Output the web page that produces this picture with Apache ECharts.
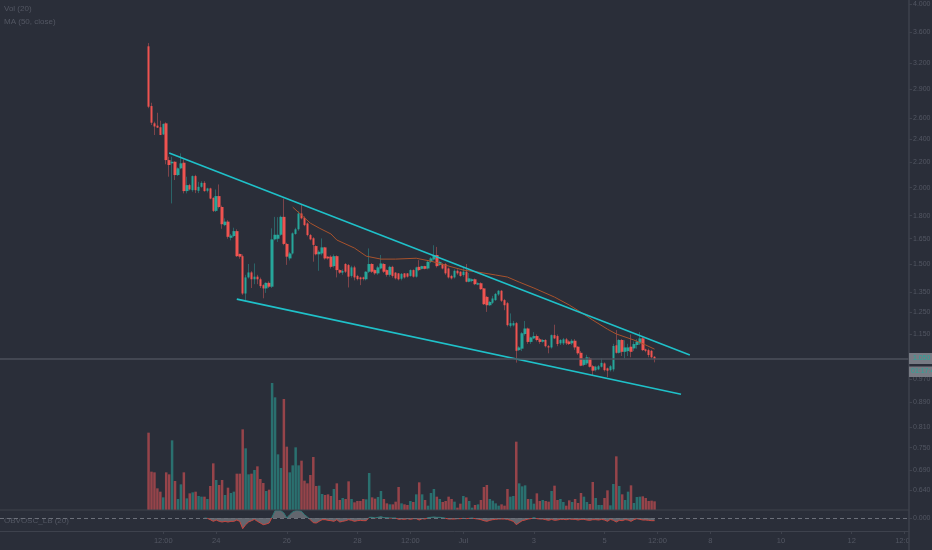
<!DOCTYPE html>
<html>
<head>
<meta charset="utf-8">
<style>html,body{margin:0;padding:0;background:#2a2e39}#main{width:932px;height:550px}</style>
<script src="https://cdn.jsdelivr.net/npm/echarts@6/dist/echarts.min.js"></script>
</head>
<body>
<div id="main"></div>
<script>
// 2h bars, one slot per bar, first candle sits in slot 50
var slotCount = 309;
var firstSlot = 50;
var opens = [
3.41,2.722,2.55,2.528,2.513,2.446,2.55,2.22,2.193,2.206,
2.098,2.152,2.198,1.975,2.02,1.982,2.09,1.977,2.007,2.037,
1.977,1.995,1.925,1.833,1.938,1.86,1.737,1.76,1.656,1.667,
1.698,1.558,1.545,1.342,1.426,1.453,1.416,1.43,1.416,1.385,
1.368,1.397,1.377,1.646,1.65,1.675,1.792,1.618,1.532,1.561,
1.68,1.71,1.815,1.785,1.748,1.673,1.653,1.605,1.556,1.561,
1.597,1.542,1.542,1.488,1.545,1.466,1.452,1.50,1.494,1.434,
1.481,1.434,1.426,1.426,1.416,1.457,1.50,1.466,1.448,1.475,
1.50,1.466,1.44,1.484,1.452,1.448,1.419,1.448,1.448,1.434,
1.466,1.43,1.484,1.473,1.488,1.475,1.512,1.526,1.552,1.495,
1.50,1.50,1.475,1.434,1.426,1.462,1.457,1.439,1.457,1.403,
1.407,1.416,1.388,1.395,1.368,1.325,1.284,1.296,1.309,1.337,
1.356,1.309,1.294,1.188,1.19,1.20,1.084,1.09,1.152,1.176,
1.118,1.133,1.143,1.129,1.119,1.126,1.10,1.095,1.147,1.143,
1.112,1.112,1.129,1.12,1.112,1.123,1.098,1.073,1.025,1.031,
1.051,1.02,1.005,1.008,1.018,1.031,1.012,1.005,1.008,1.104,
1.073,1.126,1.077,1.08,1.098,1.091,1.105,1.112,1.133,1.087,
1.084,1.081,1.057];
var closes = [
2.715,2.556,2.52,2.509,2.44,2.544,2.22,2.179,2.206,2.098,
2.152,2.193,1.975,2.02,1.987,2.09,1.982,2.007,2.037,1.975,
1.995,1.92,1.833,1.938,1.86,1.743,1.76,1.662,1.67,1.698,
1.545,1.542,1.342,1.426,1.453,1.416,1.43,1.416,1.38,1.368,
1.397,1.377,1.646,1.675,1.675,1.792,1.618,1.542,1.561,1.684,
1.71,1.815,1.782,1.737,1.673,1.646,1.612,1.556,1.571,1.597,
1.532,1.532,1.484,1.545,1.466,1.452,1.461,1.457,1.43,1.481,
1.426,1.417,1.416,1.418,1.457,1.50,1.457,1.448,1.481,1.503,
1.457,1.44,1.484,1.434,1.421,1.416,1.445,1.426,1.43,1.466,
1.43,1.481,1.466,1.488,1.473,1.512,1.532,1.552,1.488,1.512,
1.475,1.448,1.426,1.421,1.462,1.448,1.434,1.457,1.403,1.421,
1.416,1.39,1.395,1.364,1.289,1.284,1.30,1.317,1.34,1.356,
1.306,1.284,1.191,1.20,1.20,1.081,1.095,1.155,1.176,1.118,
1.137,1.143,1.126,1.118,1.126,1.10,1.095,1.147,1.133,1.109,
1.126,1.129,1.112,1.109,1.123,1.095,1.071,1.022,1.047,1.055,
1.018,1.003,1.018,1.02,1.033,1.005,1.003,1.02,1.101,1.073,
1.126,1.077,1.095,1.095,1.077,1.109,1.119,1.133,1.084,1.081,
1.064,1.055,1.048];
var highs = [
3.452,2.756,2.566,2.654,2.575,2.55,2.56,2.248,2.248,2.21,
2.16,2.277,2.226,2.085,2.03,2.095,2.10,2.045,2.05,2.05,
2.0,2.0,1.93,1.987,2.025,1.87,1.782,1.77,1.68,1.72,
1.71,1.56,1.555,1.44,1.50,1.46,1.503,1.44,1.425,1.39,
1.40,1.405,1.716,1.792,1.79,1.80,1.92,1.625,1.57,1.69,
1.72,1.83,1.874,1.795,1.755,1.68,1.66,1.61,1.58,1.652,
1.60,1.545,1.55,1.555,1.55,1.47,1.47,1.505,1.50,1.49,
1.49,1.44,1.43,1.43,1.46,1.591,1.505,1.47,1.49,1.552,
1.505,1.47,1.49,1.49,1.455,1.45,1.45,1.45,1.45,1.47,
1.47,1.485,1.522,1.49,1.49,1.52,1.54,1.61,1.60,1.52,
1.505,1.505,1.48,1.44,1.47,1.47,1.46,1.48,1.50,1.45,
1.42,1.42,1.40,1.40,1.37,1.33,1.305,1.33,1.345,1.36,
1.36,1.315,1.30,1.245,1.21,1.205,1.10,1.16,1.21,1.18,
1.14,1.16,1.15,1.135,1.13,1.13,1.105,1.15,1.193,1.15,
1.13,1.135,1.135,1.125,1.13,1.13,1.10,1.08,1.05,1.065,
1.055,1.025,1.022,1.025,1.05,1.035,1.015,1.025,1.11,1.169,
1.13,1.13,1.125,1.11,1.15,1.12,1.13,1.16,1.14,1.09,
1.09,1.085,1.06];
var lows = [
2.70,2.534,2.44,2.506,2.44,2.44,2.185,2.085,1.885,2.059,
2.09,2.145,1.958,1.958,1.98,1.97,1.96,1.96,2.0,1.97,
1.965,1.915,1.825,1.825,1.85,1.713,1.73,1.65,1.64,1.66,
1.54,1.53,1.335,1.309,1.42,1.37,1.39,1.39,1.37,1.318,
1.345,1.37,1.37,1.64,1.63,1.668,1.61,1.495,1.52,1.555,
1.675,1.70,1.775,1.73,1.665,1.64,1.513,1.55,1.462,1.55,
1.525,1.525,1.475,1.48,1.426,1.445,1.44,1.45,1.373,1.425,
1.41,1.41,1.385,1.41,1.41,1.45,1.45,1.44,1.44,1.47,
1.45,1.43,1.43,1.425,1.415,1.41,1.41,1.42,1.425,1.43,
1.425,1.425,1.46,1.47,1.47,1.47,1.505,1.52,1.48,1.49,
1.47,1.44,1.42,1.415,1.42,1.44,1.43,1.43,1.40,1.40,
1.40,1.385,1.385,1.36,1.285,1.252,1.28,1.29,1.305,1.33,
1.30,1.26,1.185,1.18,1.185,1.034,1.08,1.08,1.145,1.11,
1.11,1.13,1.12,1.11,1.115,1.095,1.071,1.09,1.13,1.10,
1.105,1.105,1.105,1.105,1.105,1.085,1.065,1.02,1.02,1.025,
1.015,0.986,1.0,1.005,1.015,1.0,0.979,1.0,1.0,1.07,
1.07,1.06,1.05,1.06,1.055,1.08,1.09,1.105,1.08,1.075,
1.055,1.05,1.035];
var volumes = [
232,115,113,65,55,38,113,107,209,87,
33,77,113,35,50,53,55,42,40,40,
33,72,140,90,75,90,45,67,51,55,
109,109,242,185,107,109,120,131,93,81,
57,61,381,338,167,126,333,190,113,134,
188,134,148,88,80,105,159,72,73,48,
45,47,42,63,80,30,36,33,86,33,
23,27,27,33,32,111,38,34,39,57,
33,20,17,17,25,69,20,17,15,27,
24,47,83,47,30,13,51,63,40,33,
24,27,40,33,25,7,19,42,38,27,
7,15,17,30,69,75,33,28,20,13,
17,13,63,40,42,205,80,71,74,33,
33,19,50,27,30,27,25,57,73,30,
33,24,13,29,24,33,21,51,40,24,
18,84,36,15,15,36,59,14,78,161,
72,47,30,55,74,21,39,40,41,36,
27,28,26];
// oscillator starts at candle 19
var oscFirstBar = 19;
var oscValues = [
0,-1,-5,-10,-6,-10,-12,-10,-12,-10,-10,-6,-10,-32,-20,-12,-8,-4,-10,-15,
-20,-18,-15,3,22,22,22,15,0,10,18,22,22,20,10,3,-5,-14,-15,-10,
-5,-5,-7,-8,-10,-5,-12,-10,-8,-5,-7,-10,-8,-7,-8,-8,2,2,0,2,
4,1,1,0,0,0,-4,
-3,-4,-2,-4,-2,-2,-6,-2,-3,1,2,3,2,2,1,-1,-3,-3,-3,-2,
-2,-1,-2,-1,0,-2,-3,-5,-8,-10,-7,-5,-4,-3,-3,-3,-4,-7,-10,-20,
-14,-8,-6,-3,-2,1,-2,-3,-3,-5,-7,-4,-7,-6,-4,-4,-5,-3,-4,-4,
-6,-4,-4,-6,-7,-5,-5,-6,-4,-6,-10,-4,-7,-12,-7,-8,-5,-6,-10,-5,
-2,-4,-6,-6,-7,-8,-8];
// MA (50, close), read at these slots
var maSlots = [99,102,105,108,112,114,120,124,129,134,141,146,151,157,162,168,172,176,181,188,193,197,201,206,209,215,219,222];
var maValues = [1.859,1.804,1.75,1.718,1.68,1.642,1.593,1.545,1.528,1.528,1.533,1.516,1.493,1.466,1.455,1.439,1.428,1.401,1.37,1.324,1.285,1.25,1.214,1.173,1.152,1.126,1.105,1.088];
// trend lines
var upperSlots = [57,234];
var upperValues = [2.28,1.064];
var lowerSlots = [80,231];
var lowerValues = [1.314,0.918];
var priceTicks = [4,3.6,3.2,2.9,2.6,2.4,2.2,2,1.8,1.65,1.5,1.35,1.25,1.15,1.05,0.97,0.89,0.81,0.75,0.69,0.64];
var timeSlots = [55,73,97,121,139,157,181,205,223,241,265,289,307];
var timeLabels = ['12:00','24','26','28','12:00','Jul','3','5','12:00','8','10','12','12:00'];

var upColor = '#26a69a', downColor = '#ef5350';
var upWick = '#2b6468', downWick = '#7d444a';
var upVol = '#2a706f', downVol = '#96444a';
var dimText = '#535763', lineColor = '#3e424d';
var font = '"Liberation Sans", sans-serif';

var myChart = echarts.init(document.getElementById('main'));

var categories = [];
for (var s = 0; s < slotCount; s++) categories.push(String(s));

var wickData = [], bodyData = [], volData = [], oscData = [];
opens.forEach(function (o, k) {
  var c = closes[k], slot = firstSlot + k;
  wickData.push([slot, o, c, lows[k], highs[k]]);
  bodyData.push([slot, o, c, Math.min(o, c), Math.max(o, c)]);
  volData.push({ value: [slot, volumes[k]], itemStyle: { color: c >= o ? upVol : downVol } });
});
oscValues.forEach(function (v, k) { oscData.push([firstSlot + oscFirstBar + k, v]); });

function pairs(xs, ys) { return xs.map(function (x, i) { return [x, ys[i]]; }); }
function isTimeSlot(i) { return timeSlots.indexOf(i) >= 0; }

function hiddenX(g) {
  return { type: 'category', gridIndex: g, data: categories, show: false };
}

var option = {
  backgroundColor: '#2a2e39',
  animation: false,
  textStyle: { fontFamily: font },
  grid: [
    { left: 0, top: 0, width: 909, height: 510, outerBoundsMode: 'none' },
    { left: 0, top: 383, width: 909, height: 127, outerBoundsMode: 'none' },
    { left: 0, top: 510, width: 909, height: 21, outerBoundsMode: 'none' }
  ],
  xAxis: [hiddenX(0), hiddenX(1), {
    type: 'category', gridIndex: 2, data: categories,
    axisLine: { show: true, onZero: false, lineStyle: { color: lineColor } },
    axisTick: { show: true, interval: function (i) { return isTimeSlot(i); }, alignWithLabel: true, length: 3, lineStyle: { color: lineColor } },
    axisLabel: {
      interval: function (i) { return isTimeSlot(i); },
      formatter: function (v, i) { return timeLabels[timeSlots.indexOf(i)]; },
      color: dimText, fontSize: 7.5, margin: 6, fontFamily: font
    }
  }],
  yAxis: [{
    type: 'log', gridIndex: 0, position: 'right', min: 0.593, max: 4.061, logBase: 10,
    splitLine: { show: false },
    axisLine: { show: false },
    axisTick: { show: true, length: 3, lineStyle: { color: lineColor }, customValues: priceTicks },
    axisLabel: { color: dimText, fontSize: 7, margin: 4, fontFamily: font, customValues: priceTicks,
      formatter: function (v) { return Number(v).toFixed(3); } }
  }, {
    type: 'value', gridIndex: 1, min: 0, max: 381, show: false
  }, {
    type: 'value', gridIndex: 2, position: 'right', min: -39, max: 24,
    splitLine: { show: false },
    axisLine: { show: false },
    axisTick: { show: true, length: 3, lineStyle: { color: lineColor }, customValues: [0] },
    axisLabel: { color: dimText, fontSize: 7, margin: 4, fontFamily: font, customValues: [0],
      formatter: function (v) { return Number(v).toFixed(3); } }
  }],
  visualMap: [{
    show: false, seriesIndex: 6, dimension: 1,
    pieces: [{ min: -40, max: 0, color: '#c8453f' }, { min: 0, max: 30, color: '#2c7a78' }]
  }],
  series: [{
    name: 'Vol', type: 'bar', xAxisIndex: 1, yAxisIndex: 1, data: volData, barWidth: 2.5
  }, {
    name: 'wick', type: 'candlestick', xAxisIndex: 0, yAxisIndex: 0, data: wickData, barWidth: 1,
    encode: { x: 0, y: [1, 2, 3, 4] },
    itemStyle: { color: upWick, color0: downWick, borderColor: upWick, borderColor0: downWick, borderWidth: 1 },
    markLine: {
      silent: true, symbol: 'none', label: { show: false },
      lineStyle: { color: '#4c505b', width: 1.5, type: 'solid' },
      data: [{ yAxis: closes[closes.length - 1] }]
    }
  }, {
    name: 'body', type: 'candlestick', xAxisIndex: 0, yAxisIndex: 0, data: bodyData, barWidth: 3,
    encode: { x: 0, y: [1, 2, 3, 4] },
    itemStyle: { color: upColor, color0: downColor, borderColor: upColor, borderColor0: downColor, borderWidth: 0 }
  }, {
    name: 'MA', type: 'line', xAxisIndex: 0, yAxisIndex: 0, data: pairs(maSlots, maValues),
    showSymbol: false, smooth: false, lineStyle: { color: '#a8522c', width: 1 }
  }, {
    name: 'upper', type: 'line', xAxisIndex: 0, yAxisIndex: 0, data: pairs(upperSlots, upperValues),
    showSymbol: false, lineStyle: { color: '#1fc1c9', width: 1.6 }
  }, {
    name: 'lower', type: 'line', xAxisIndex: 0, yAxisIndex: 0, data: pairs(lowerSlots, lowerValues),
    showSymbol: false, lineStyle: { color: '#1fc1c9', width: 1.6 }
  }, {
    name: 'osc', type: 'line', xAxisIndex: 2, yAxisIndex: 2, data: oscData,
    showSymbol: false, lineStyle: { width: 1 },
    areaStyle: { color: '#7b7f85', opacity: 0.7 },
    markLine: {
      silent: true, symbol: 'none', label: { show: false },
      lineStyle: { color: '#6c707a', width: 1, type: [4, 3] },
      data: [{ yAxis: 0 }]
    }
  }],
  graphic: [
    { type: 'line', shape: { x1: 0, y1: 510, x2: 909, y2: 510 }, style: { stroke: lineColor, lineWidth: 1 }, z: 5 },
    { type: 'rect', shape: { x: 909.5, y: 532, width: 23, height: 18 }, style: { fill: '#2a2e39' }, z: 90 },
    { type: 'line', shape: { x1: 909, y1: 0, x2: 909, y2: 550 }, style: { stroke: lineColor, lineWidth: 1.5 }, z: 91 },
    { type: 'rect', shape: { x: 909, y: 353, width: 23, height: 11 }, style: { fill: '#777b84' }, z: 92 },
    { type: 'text', x: 913, y: 355, style: { text: '1.050', fill: '#26a69a', font: '7px ' + font }, z: 93 },
    { type: 'rect', shape: { x: 909, y: 366.5, width: 23, height: 10.5 }, style: { fill: '#777b84' }, z: 92 },
    { type: 'text', x: 911, y: 368, style: { text: '01:17:4', fill: '#26a69a', font: '7px ' + font }, z: 93 },
    { type: 'text', x: 4, y: 5, style: { text: 'Vol (20)', fill: dimText, font: '8px ' + font } },
    { type: 'text', x: 4, y: 18, style: { text: 'MA (50, close)', fill: dimText, font: '8px ' + font } },
    { type: 'text', x: 4, y: 517, style: { text: 'OBVOSC_LB (20)', fill: dimText, font: '8px ' + font } }
  ]
};

myChart.setOption(option);
</script>
</body>
</html>
